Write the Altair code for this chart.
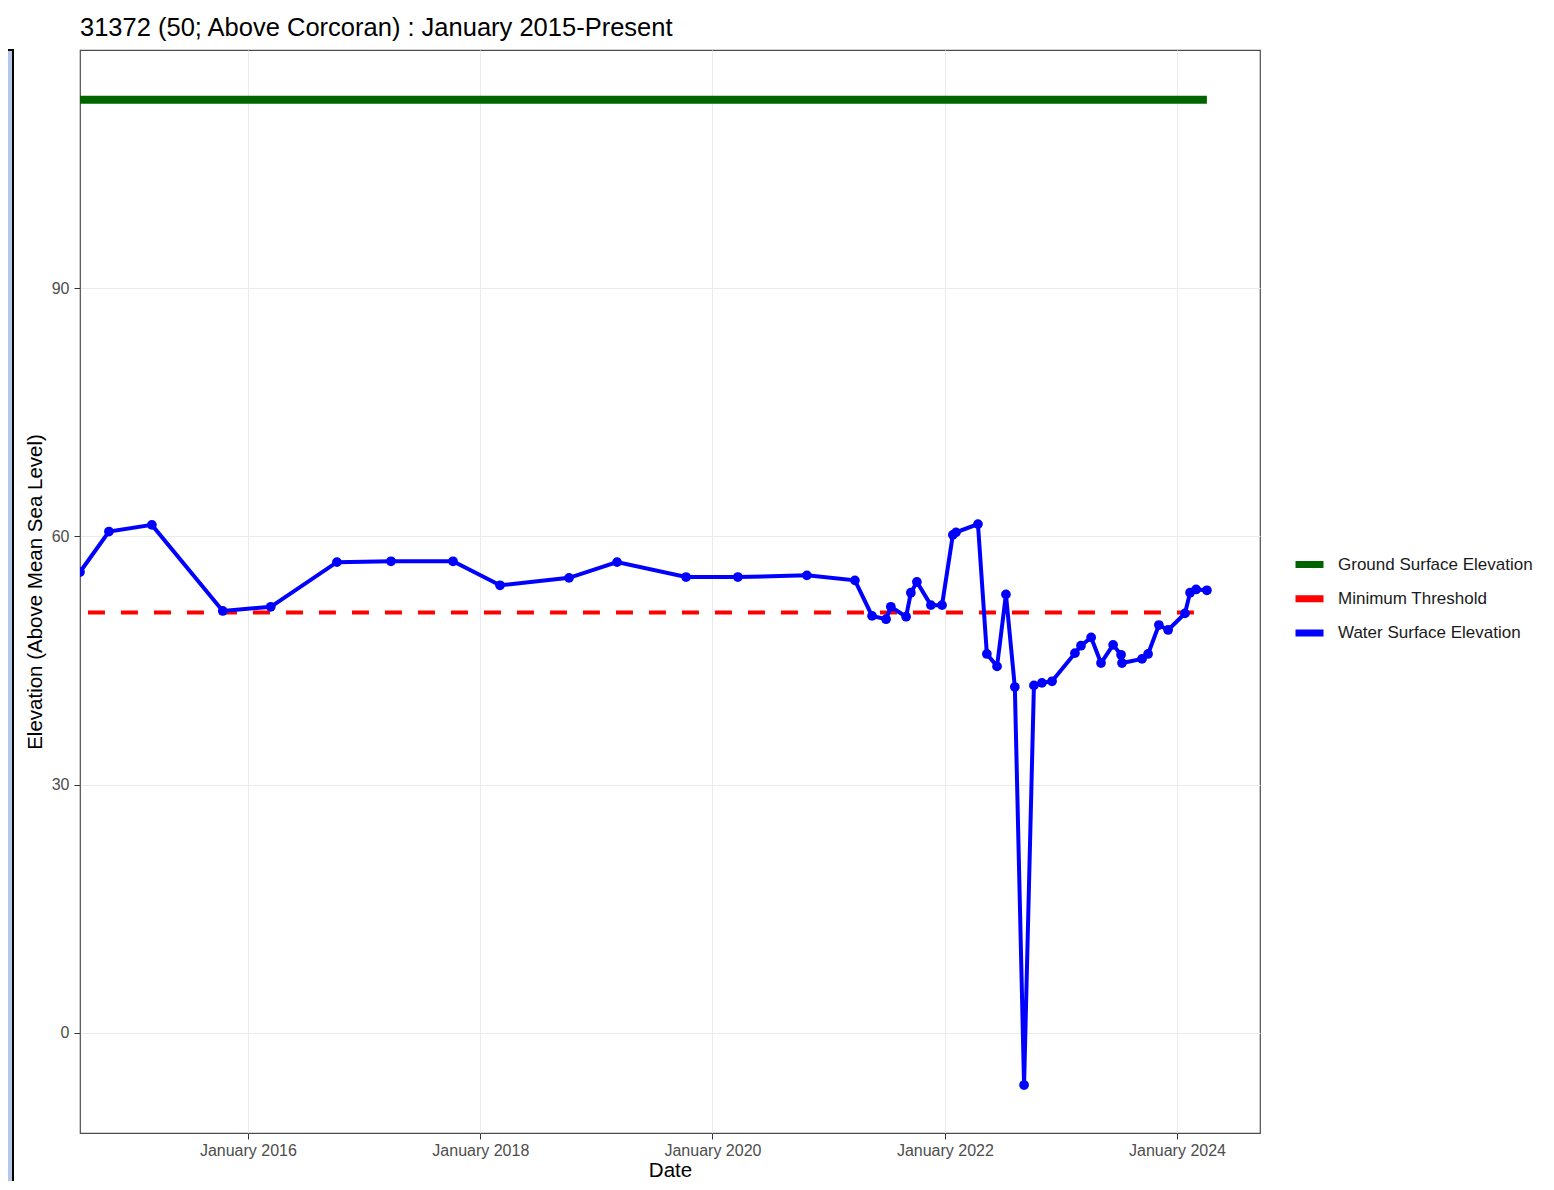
import altair as alt
import pandas as pd

# ---------------- data ----------------
series_names = ["Ground Surface Elevation", "Minimum Threshold", "Water Surface Elevation"]
series_colors = ["#006400", "#FF0000", "#0000FF"]

water_dates = [
    "2014-07-22", "2014-10-21", "2015-03-05", "2015-10-14", "2016-03-13",
    "2016-10-07", "2017-03-26", "2017-10-07", "2018-03-04", "2018-10-07",
    "2019-03-07", "2019-10-10", "2020-03-21", "2020-10-24", "2021-03-24",
    "2021-05-17", "2021-06-30", "2021-07-15", "2021-09-01", "2021-09-16",
    "2021-10-05", "2021-11-18", "2021-12-23", "2022-01-26", "2022-02-05",
    "2022-04-15", "2022-05-13", "2022-06-14", "2022-07-12", "2022-08-09",
    "2022-09-07", "2022-10-08", "2022-11-02", "2022-12-04", "2023-02-14",
    "2023-03-05", "2023-04-06", "2023-05-07", "2023-06-14", "2023-07-09",
    "2023-07-12", "2023-09-13", "2023-10-02", "2023-11-05", "2023-12-04",
    "2024-01-26", "2024-02-11", "2024-03-01", "2024-04-04",
]
water_values = [
    55.7, 60.6, 61.4, 51.0, 51.5,
    56.9, 57.0, 57.0, 54.1, 55.0,
    56.9, 55.1, 55.1, 55.3, 54.7,
    50.4, 50.0, 51.5, 50.3, 53.2,
    54.5, 51.7, 51.7, 60.2, 60.5,
    61.5, 45.8, 44.3, 53.0, 41.8,
    -6.3, 42.0, 42.3, 42.5, 45.9,
    46.8, 47.8, 44.7, 46.9, 45.7,
    44.7, 45.2, 45.8, 49.3, 48.7,
    50.7, 53.2, 53.6, 53.5,
]

ground_dates = ["2014-07-22", "2024-04-04"]
ground_values = [112.8, 112.8]

threshold_dates = ["2014-08-16", "2024-03-04"]
threshold_values = [50.8, 50.8]

tick_years = [2016, 2018, 2020, 2022, 2024]
y_ticks = [0, 30, 60, 90]

title_text = "31372 (50; Above Corcoran) : January 2015-Present"

# ---------------- tables ----------------
water = pd.DataFrame({"date": water_dates, "elev": water_values,
                      "series": series_names[2]})
ground = pd.DataFrame({"date": ground_dates, "elev": ground_values,
                       "series": series_names[0]})
threshold = pd.DataFrame({"date": threshold_dates, "elev": threshold_values,
                          "series": series_names[1]})

FONT = "Liberation Sans"

x_enc = alt.X(
    "date:T",
    scale=alt.Scale(
        type="utc",
        domain=[alt.DateTime(year=2014, month=7, date=22, utc=True),
                alt.DateTime(year=2024, month=9, date=18, utc=True)],
        nice=False,
    ),
    axis=alt.Axis(
        values=[alt.DateTime(year=y, month=1, date=1, utc=True) for y in tick_years],
        format="%B %Y",
        title="Date",
        labelFlush=False,
        labelPadding=3,
        titlePadding=2,
    ),
)
y_enc = alt.Y(
    "elev:Q",
    scale=alt.Scale(domain=[-12.1, 118.8], nice=False, zero=False),
    axis=alt.Axis(values=y_ticks, title="Elevation (Above Mean Sea Level)",
                  labelPadding=5, titlePadding=6),
)
color_enc = alt.Color(
    "series:N",
    scale=alt.Scale(domain=series_names, range=series_colors),
    legend=alt.Legend(
        title=None,
        orient="none",
        legendX=1212,
        legendY=497,
        symbolType="stroke",
        symbolSize=784,
        symbolStrokeWidth=7,
        symbolDash=[1, 0],
        labelFontSize=17,
        labelFont=FONT,
        labelColor="#1A1A1A",
        labelOffset=11,
        labelLimit=400,
        rowPadding=2.3,
        padding=0,
    ),
)

# decorative slide frame on the left (light-blue strip with a black edge)
frame = alt.Chart(pd.DataFrame({"k": [0]})).mark_rect(
    fill="#B4C7E7", stroke="black", strokeWidth=2, clip=False
).encode(
    x=alt.value(-90), x2=alt.value(-67), y=alt.value(0), y2=alt.value(1200)
)

ground_line = alt.Chart(ground).mark_line(strokeWidth=8, strokeCap="butt").encode(
    x=x_enc, y=y_enc, color=color_enc
)
threshold_line = alt.Chart(threshold).mark_line(
    strokeWidth=4, strokeDash=[17, 16], strokeCap="butt"
).encode(x=x_enc, y=y_enc, color=color_enc)
water_line = alt.Chart(water).mark_line(strokeWidth=4, clip=True).encode(
    x=x_enc, y=y_enc, color=color_enc
)
water_pts = alt.Chart(water).mark_circle(size=95, opacity=1, clip=True).encode(
    x=x_enc, y=y_enc, color=color_enc
)

chart = (
    alt.layer(frame, ground_line, threshold_line, water_line, water_pts)
    .properties(
        width=1180,
        height=1083,
        title=alt.TitleParams(
            title_text, anchor="start", frame="group", fontSize=25.5, font=FONT,
            fontWeight="normal", color="black", offset=-12, baseline="alphabetic",
        ),
        autosize=alt.AutoSizeParams(type="none"),
        padding={"left": 72, "top": 42, "right": 282, "bottom": 48},
        background="white",
    )
    .configure_view(stroke="#4D4D4D", strokeWidth=1.2)
    .configure_axis(
        grid=True,
        gridColor="#EBEBEB",
        gridWidth=1,
        domain=False,
        tickColor="#333333",
        tickSize=6,
        labelFont=FONT,
        labelFontSize=16,
        labelColor="#4D4D4D",
        titleFont=FONT,
        titleFontSize=20.5,
        titleFontWeight="normal",
        titleColor="black",
    )
)

chart.save("out.html", embed_options={"renderer": "svg", "actions": False})
